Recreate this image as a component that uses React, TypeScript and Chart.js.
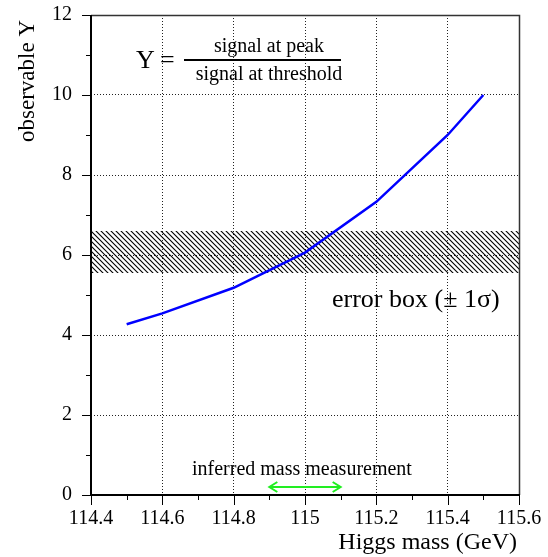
import { useEffect, useRef } from "react";
import { Chart, registerables } from "chart.js";

Chart.register(...registerables);

// Predicted observable Y versus Higgs mass
const massPoints = [114.5, 114.6, 114.8, 115.0, 115.2, 115.4, 115.5];
const observableY = [4.27, 4.54, 5.18, 6.06, 7.33, 9.0, 10.0];

// Axis ranges and tick steps
const xRange = [114.4, 115.6];
const yRange = [0, 12];
const xMajorStep = 0.2;
const xMinorStep = 0.1;
const yMajorStep = 2;
const yMinorStep = 1;

// Measured Y with its ±1σ band, and the mass range it implies
const errorBand = [5.55, 6.6];
const measurementRange = [114.9, 115.1];
const measurementY = 0.2;

const SERIF = "'Liberation Serif', 'Times New Roman', serif";

function makeHatch(ctx: CanvasRenderingContext2D): CanvasPattern | string {
  const s = 5;
  const c = document.createElement("canvas");
  c.width = s;
  c.height = s;
  const g = c.getContext("2d");
  if (!g) return "rgba(0,0,0,0.4)";
  g.strokeStyle = "#000";
  g.lineWidth = 1.1;
  g.beginPath();
  g.moveTo(-1, -1);
  g.lineTo(s + 1, s + 1);
  g.moveTo(-1, s - 1);
  g.lineTo(1, s + 1);
  g.moveTo(s - 1, -1);
  g.lineTo(s + 1, 1);
  g.stroke();
  return ctx.createPattern(c, "repeat") || "rgba(0,0,0,0.4)";
}

const decorations = {
  id: "decorations",
  afterDraw(chart: any) {
    const { ctx, chartArea } = chart;
    const xs = chart.scales.x;
    const ys = chart.scales.y;
    const { left, right, top, bottom } = chartArea;
    ctx.save();

    // tick marks outside the frame
    ctx.strokeStyle = "#000";
    ctx.lineWidth = 1;
    const nx = Math.round((xRange[1] - xRange[0]) / xMinorStep);
    const perMajorX = Math.round(xMajorStep / xMinorStep);
    for (let i = 0; i <= nx; i++) {
      const v = xRange[0] + i * xMinorStep;
      const px = Math.round(xs.getPixelForValue(v)) + 0.5;
      const len = i % perMajorX === 0 ? 10 : 5;
      ctx.beginPath();
      ctx.moveTo(px, bottom);
      ctx.lineTo(px, bottom + len);
      ctx.stroke();
    }
    const ny = Math.round((yRange[1] - yRange[0]) / yMinorStep);
    const perMajorY = Math.round(yMajorStep / yMinorStep);
    for (let i = 0; i <= ny; i++) {
      const v = yRange[0] + i * yMinorStep;
      const py = Math.round(ys.getPixelForValue(v)) + 0.5;
      const len = i % perMajorY === 0 ? 9 : 5;
      ctx.beginPath();
      ctx.moveTo(left, py);
      ctx.lineTo(left - len, py);
      ctx.stroke();
    }

    // frame
    ctx.strokeStyle = "#333";
    ctx.lineWidth = 1.5;
    ctx.beginPath();
    ctx.moveTo(left, top + 0.5);
    ctx.lineTo(right + 0.5, top + 0.5);
    ctx.lineTo(right + 0.5, bottom);
    ctx.stroke();
    ctx.strokeStyle = "#000";
    ctx.lineWidth = 2;
    ctx.beginPath();
    ctx.moveTo(left, top);
    ctx.lineTo(left, bottom);
    ctx.lineTo(right + 1, bottom);
    ctx.stroke();

    // measurement arrow
    const ax0 = xs.getPixelForValue(measurementRange[0]);
    const ax1 = xs.getPixelForValue(measurementRange[1]);
    const ay = ys.getPixelForValue(measurementY);
    ctx.strokeStyle = "#22ee22";
    ctx.lineWidth = 2;
    ctx.beginPath();
    ctx.moveTo(ax0, ay);
    ctx.lineTo(ax1, ay);
    ctx.moveTo(ax0 + 8, ay - 5);
    ctx.lineTo(ax0, ay);
    ctx.lineTo(ax0 + 8, ay + 5);
    ctx.moveTo(ax1 - 8, ay - 5);
    ctx.lineTo(ax1, ay);
    ctx.lineTo(ax1 - 8, ay + 5);
    ctx.stroke();

    // texts
    ctx.fillStyle = "#000";
    ctx.textBaseline = "alphabetic";

    ctx.font = `26px ${SERIF}`;
    ctx.textAlign = "left";
    ctx.fillText("Y", 136, 68);
    ctx.fillText("=", 160, 68);

    ctx.lineWidth = 2;
    ctx.strokeStyle = "#000";
    ctx.beginPath();
    ctx.moveTo(184, 60);
    ctx.lineTo(341, 60);
    ctx.stroke();

    ctx.font = `20px ${SERIF}`;
    ctx.textAlign = "center";
    ctx.fillText("signal at peak", 269, 52);
    ctx.fillText("signal at threshold", 269, 80);

    ctx.font = `26px ${SERIF}`;
    ctx.textAlign = "left";
    ctx.fillText("error box (\u00B1 1\u03C3)", 332, 307);

    ctx.font = `20px ${SERIF}`;
    ctx.fillText("inferred mass measurement", 192, 475);

    // axis titles
    ctx.font = `24px ${SERIF}`;
    ctx.textAlign = "right";
    ctx.fillText("Higgs mass (GeV)", 517, 549);

    ctx.font = `23px ${SERIF}`;
    ctx.save();
    ctx.translate(34, 20);
    ctx.rotate(-Math.PI / 2);
    ctx.textAlign = "right";
    ctx.fillText("observable Y", 0, 0);
    ctx.restore();

    ctx.restore();
  },
};

function noOverhang(s: any) {
  s.paddingTop = 0;
  s.paddingBottom = 0;
  s.paddingLeft = 0;
  s.paddingRight = 0;
}

export default function App() {
  const canvasRef = useRef<HTMLCanvasElement | null>(null);

  useEffect(() => {
    document.body.style.margin = "0";
    const canvas = canvasRef.current;
    if (!canvas) return;
    const ctx = canvas.getContext("2d");
    if (!ctx) return;
    const hatch = makeHatch(ctx);

    const gridColor = (lim: number[]) => (c: any) => {
      const v = c.tick ? c.tick.value : NaN;
      if (Math.abs(v - lim[0]) < 1e-6 || Math.abs(v - lim[1]) < 1e-6) return "rgba(0,0,0,0)";
      return "#222";
    };

    const chart = new Chart(ctx, {
      type: "line",
      data: {
        datasets: [
          {
            label: "Y",
            data: massPoints.map((m, i) => ({ x: m, y: observableY[i] })),
            borderColor: "#0000ff",
            borderWidth: 2.5,
            pointRadius: 0,
            tension: 0,
            fill: false,
            order: 0,
          },
          {
            label: "band top",
            data: xRange.map((x) => ({ x, y: errorBand[1] })),
            borderColor: "rgba(0,0,0,0)",
            borderWidth: 0,
            pointRadius: 0,
            fill: false,
            order: 2,
          },
          {
            label: "band bottom",
            data: xRange.map((x) => ({ x, y: errorBand[0] })),
            borderColor: "rgba(0,0,0,0)",
            borderWidth: 0,
            pointRadius: 0,
            backgroundColor: hatch as any,
            fill: "-1",
            order: 1,
          },
        ],
      },
      options: {
        responsive: false,
        animation: false,
        devicePixelRatio: 1,
        layout: { padding: { top: 15, right: 29, left: 0, bottom: 0 } },
        plugins: {
          legend: { display: false },
          tooltip: { enabled: false },
        },
        scales: {
          x: {
            type: "linear",
            min: xRange[0],
            max: xRange[1],
            afterFit: (s: any) => {
              s.height = 62;
              noOverhang(s);
            },
            ticks: {
              stepSize: xMajorStep,
              autoSkip: false,
              maxRotation: 0,
              minRotation: 0,
              padding: 12,
              color: "#000",
              font: { family: SERIF, size: 20 },
              callback: (v: any) => String(parseFloat(Number(v).toFixed(1))),
            },
            grid: {
              drawTicks: false,
              color: gridColor(xRange),
              lineWidth: 1,
            },
            border: { display: false, dash: [1, 2] },
          },
          y: {
            type: "linear",
            min: yRange[0],
            max: yRange[1],
            afterFit: (s: any) => {
              s.width = 91;
              noOverhang(s);
            },
            ticks: {
              stepSize: yMajorStep,
              padding: 19,
              color: "#000",
              font: { family: SERIF, size: 20 },
              callback: (v: any) => String(Number(v)),
            },
            grid: {
              drawTicks: false,
              color: gridColor(yRange),
              lineWidth: 1,
            },
            border: { display: false, dash: [1, 2] },
          },
        },
      },
      plugins: [decorations],
    });

    return () => chart.destroy();
  }, []);

  return <canvas ref={canvasRef} width={548} height={557} style={{ display: "block" }} />;
}
